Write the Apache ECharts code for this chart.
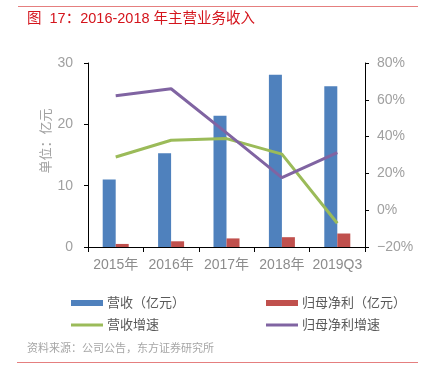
<!DOCTYPE html>
<html><head><meta charset="utf-8">
<script src="https://cdn.jsdelivr.net/npm/echarts@6/dist/echarts.min.js"></script>
<style>html,body{margin:0;padding:0;background:#fff}#c{width:437px;height:378px}</style>
</head><body><div id="c"></div>
<script>
var categories = ['2015年','2016年','2017年','2018年','2019Q3'];
var revenue = [11.0, 15.3, 21.4, 28.1, 26.2];
var netProfit = [0.5, 0.93, 1.4, 1.6, 2.2];
var revenueGrowth = [28.9, 38.0, 38.9, 30.5, -7.1];
var profitGrowth = [62.2, 66.0, 42.0, 17.7, 31.3];
var leftTicks = [0, 10, 20, 30];
var rightTicks = [-20, 0, 20, 40, 60, 80];

var chart = echarts.init(document.getElementById('c'));
var font = '"Liberation Sans", Arial, "Noto Sans CJK SC", sans-serif';
var cjk = '"Liberation Sans", "Noto Sans CJK SC", sans-serif';
var lineIcon = 'path://M0,0L32,0L32,3L0,3Z';
function legendBlock(left, items) {
  return {
    left: left, top: 291, orient: 'vertical', itemGap: 8,
    itemWidth: 32, itemHeight: 6,
    textStyle: {color: '#595959', fontSize: 13, lineHeight: 14, fontFamily: cjk, padding: [0,0,0,-1]},
    data: items
  };
}
chart.setOption({
  animation: false,
  grid: {left: 88, right: 72, top: 63, bottom: 131},
  legend: [
    legendBlock(66, [{name: '营收（亿元）', icon: 'rect'}, {name: '营收增速', icon: lineIcon}]),
    legendBlock(261, [{name: '归母净利（亿元）', icon: 'rect'}, {name: '归母净利增速', icon: lineIcon}])
  ],
  xAxis: {
    type: 'category', data: categories,
    axisLine: {lineStyle: {color: '#000', width: 1}},
    axisTick: {show: true, length: 5, lineStyle: {color: '#000'}},
    axisLabel: {interval: 0, color: '#8c8c8c', fontSize: 14, fontFamily: cjk, margin: 11}
  },
  yAxis: [{
    type: 'value', min: 0, max: 30, interval: 10,
    axisLine: {show: true, lineStyle: {color: '#000'}},
    axisTick: {show: true, length: 4, lineStyle: {color: '#000'}},
    splitLine: {show: false},
    axisLabel: {color: '#a0a0a0', fontSize: 14, fontFamily: font, margin: 15}
  }, {
    type: 'value', min: -20, max: 80, interval: 20,
    axisLine: {show: true, lineStyle: {color: '#000'}},
    axisTick: {show: true, length: 4, lineStyle: {color: '#000'}},
    splitLine: {show: false},
    axisLabel: {color: '#a0a0a0', fontSize: 14, fontFamily: font, margin: 12,
      formatter: function(v){ return (v < 0 ? '−' + (-v) : v) + '%'; }}
  }],
  series: [{
    name: '营收（亿元）', type: 'bar', data: revenue, barWidth: 13, barGap: '0%',
    itemStyle: {color: '#4F81BD'}
  }, {
    name: '归母净利（亿元）', type: 'bar', data: netProfit, barWidth: 13, barGap: '0%',
    itemStyle: {color: '#C0504D'}
  }, {
    name: '营收增速', type: 'line', yAxisIndex: 1, data: revenueGrowth,
    symbol: 'none', lineStyle: {color: '#9BBB59', width: 3}, itemStyle: {color: '#9BBB59'}
  }, {
    name: '归母净利增速', type: 'line', yAxisIndex: 1, data: profitGrowth,
    symbol: 'none', lineStyle: {color: '#8064A2', width: 3}, itemStyle: {color: '#8064A2'}
  }],
  graphic: [
    {type: 'rect', shape: {x: 18, y: 6, width: 400, height: 1}, style: {fill: '#e57f7f'}},
    {type: 'text', left: 27, top: 12, style: {text: '图  17：2016-2018 年主营业务收入', fill: '#d4141c', font: '14.5px ' + cjk}},
    {type: 'text', x: 45, y: 141, rotation: Math.PI/2, style: {text: '单位：亿元', fill: '#a0a0a0', font: '13px "Noto Sans CJK SC", sans-serif', align: 'center', verticalAlign: 'middle'}},
    {type: 'text', left: 27, top: 342, style: {text: '资料来源：公司公告，东方证券研究所', fill: '#a6a6a6', font: '11px "Noto Sans CJK SC", sans-serif'}},
    {type: 'rect', shape: {x: 17, y: 362, width: 401, height: 1}, style: {fill: '#e57f7f'}}
  ]
});
</script></body></html>
